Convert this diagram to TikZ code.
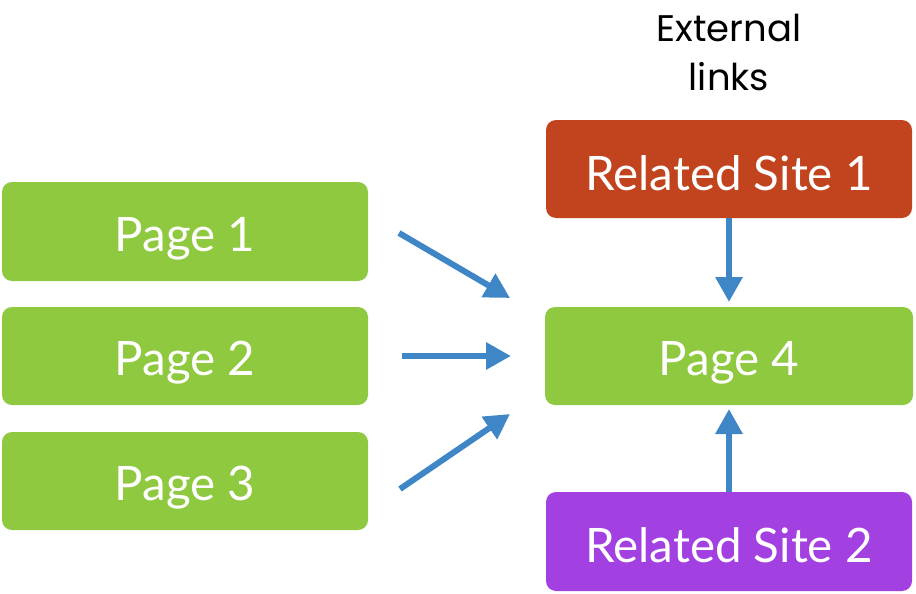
\documentclass[tikz,border=0pt]{standalone}
\usepackage{fontspec}
\setmainfont{Lato}
\newfontfamily\headfont{Poppins}
\usetikzlibrary{arrows.meta}
\definecolor{boxgreen}{RGB}{143,201,64}
\definecolor{boxred}{RGB}{193,68,30}
\definecolor{boxpurple}{RGB}{162,64,225}
\definecolor{arrowblue}{RGB}{62,134,198}
\begin{document}
\begin{tikzpicture}[x=1pt,y=-1pt,
  boxshape/.style={rounded corners=10pt},
  boxtext/.style={text=white,anchor=base,inner sep=0pt,font=\fontsize{47.5}{52}\selectfont},
  headtext/.style={anchor=base,inner sep=0pt,font=\headfont\fontsize{37}{44}\selectfont},
  link/.style={draw=arrowblue,line width=6pt,-{Triangle[length=25pt,width=26pt]}}]
\useasboundingbox (0,0) rectangle (916,594);
\fill[boxshape,fill=boxgreen] (2,182) rectangle (368,281);
\node[boxtext] (p1) at (185,251) {Page 1};
\fill[boxshape,fill=boxgreen] (2,307) rectangle (368,405);
\node[boxtext] (p2) at (185,375) {Page 2};
\fill[boxshape,fill=boxgreen] (2,432) rectangle (368,530);
\node[boxtext] (p3) at (185,500) {Page 3};
\fill[boxshape,fill=boxgreen] (545,307) rectangle (913,405);
\node[boxtext] (p4) at (729,375) {Page 4};
\fill[boxshape,fill=boxred] (546,120) rectangle (912,218);
\node[boxtext] (r1) at (729,190) {Related Site 1};
\fill[boxshape,fill=boxpurple] (546,492) rectangle (912,591);
\node[boxtext] (r2) at (729,562) {Related Site 2};
\node[headtext] (ext1) at (729,42) {External};
\node[headtext] (ext2) at (729,90) {links};
\coordinate (a1s) at (399,233); \coordinate (a1e) at (510,298);
\coordinate (a2s) at (402,356); \coordinate (a2e) at (511,356);
\coordinate (a3s) at (400,489); \coordinate (a3e) at (510,414);
\coordinate (a4s) at (729,218); \coordinate (a4e) at (729,302);
\coordinate (a5s) at (729,492); \coordinate (a5e) at (729,409);
\draw[link] (a1s) -- (a1e);
\draw[link] (a2s) -- (a2e);
\draw[link] (a3s) -- (a3e);
\draw[link] (a4s) -- (a4e);
\draw[link] (a5s) -- (a5e);
\end{tikzpicture}
\end{document}
